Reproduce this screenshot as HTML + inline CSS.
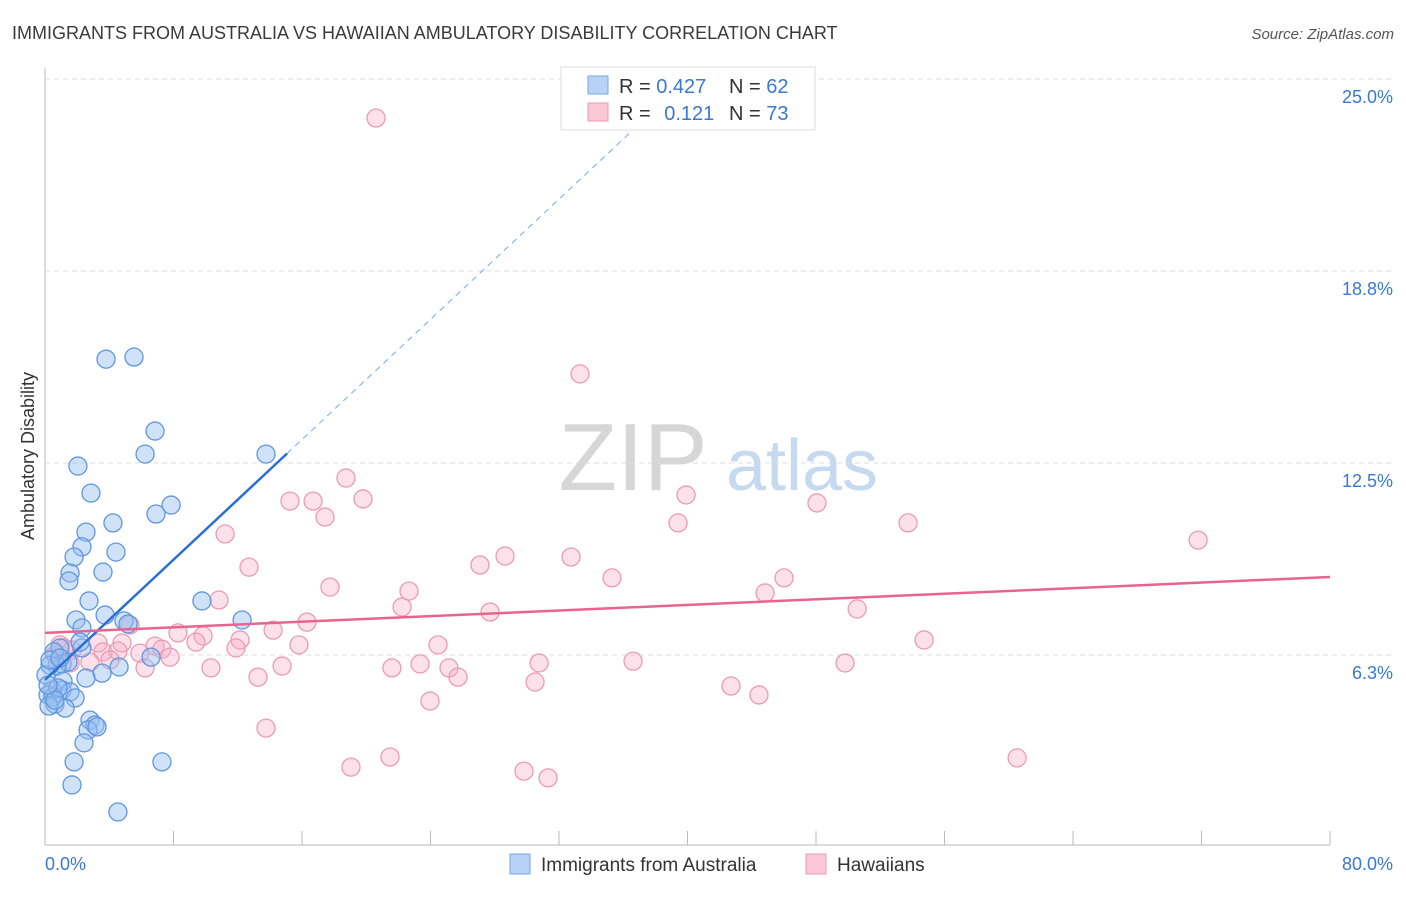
<!DOCTYPE html>
<html><head><meta charset="utf-8">
<style>
body{margin:0;background:#fff;font-family:"Liberation Sans",sans-serif;}
svg text{font-family:"Liberation Sans",sans-serif;}
</style></head>
<body>
<svg id="chart" width="1406" height="892" viewBox="0 0 1406 892" xmlns="http://www.w3.org/2000/svg">
<text x="12" y="39" font-size="18" fill="#3a3a3a">IMMIGRANTS FROM AUSTRALIA VS HAWAIIAN AMBULATORY DISABILITY CORRELATION CHART</text>
<text x="1394" y="39" font-size="15" fill="#555" text-anchor="end" font-style="italic">Source: ZipAtlas.com</text>
<g>
<text x="633" y="490" font-size="96" fill="#d6d6d6" text-anchor="middle" font-family="Liberation Serif,serif">ZIP</text>
<text x="802" y="490" font-size="72" fill="#c5d9f0" text-anchor="middle">atlas</text>
</g>
<g id="grid"></g>
<g id="axes"></g>
<text transform="translate(34,456) rotate(-90)" font-size="18" fill="#333" text-anchor="middle">Ambulatory Disability</text>
<g id="pts"></g>
<g id="trends"></g>
<g>
<rect x="561" y="67" width="254" height="63" fill="#fff" stroke="#ddd"/>
<rect x="588" y="76" width="20" height="18" fill="#b7d2f5" stroke="#7aa6e6"/>
<rect x="588" y="103" width="20" height="18" fill="#fbc6d6" stroke="#ee9ab4"/>
<text x="619" y="93" font-size="20" fill="#333">R = <tspan fill="#3a78d4">0.427</tspan></text>
<text x="729" y="93" font-size="20" fill="#333">N = <tspan fill="#3a78d4">62</tspan></text>
<text x="619" y="120" font-size="20" fill="#333">R = <tspan fill="#3a78d4" dx="8">0.121</tspan></text>
<text x="729" y="120" font-size="20" fill="#333">N = <tspan fill="#3a78d4">73</tspan></text>
</g>
<g>
<rect x="510" y="854" width="20" height="20" fill="#b7d2f5" stroke="#7aa6e6"/>
<text x="541" y="871" font-size="19" fill="#333">Immigrants from Australia</text>
<rect x="806" y="854" width="20" height="20" fill="#fbc6d6" stroke="#ee9ab4"/>
<text x="837" y="871" font-size="19" fill="#333">Hawaiians</text>
</g>
</svg>
<script>
const blueX=[3.80,5.54,6.85,6.23,13.76,2.05,2.86,7.85,6.91,2.55,4.23,2.30,1.81,4.42,1.56,3.61,1.49,2.74,9.77,1.93,2.30,4.92,6.60,12.27,2.30,5.17,0.93,0.56,1.06,1.43,0.75,0.31,4.61,3.55,2.55,1.12,0.44,1.06,1.56,0.19,0.50,1.87,0.62,1.25,0.25,2.80,3.11,2.68,3.24,2.43,1.81,7.28,1.68,4.54,0.81,0.06,0.31,0.93,3.74,2.18,0.62,0.19];
const blueY=[15.88,15.95,13.54,12.79,12.79,12.40,11.52,11.13,10.84,10.25,10.55,9.77,9.44,9.60,8.92,8.95,8.66,8.01,8.01,7.39,7.13,7.36,6.18,7.39,6.48,7.26,6.48,6.35,5.96,6.02,5.89,5.92,5.86,5.66,5.50,5.40,5.11,5.11,5.05,4.95,4.88,4.85,4.65,4.52,4.59,4.13,3.97,3.81,3.91,3.39,2.77,2.77,2.02,1.14,5.18,5.60,6.09,6.15,7.55,6.67,4.78,5.27];
const pinkX=[20.61,33.31,18.74,15.25,16.69,19.80,39.91,17.43,48.06,39.41,53.73,11.21,71.79,28.64,32.75,27.08,12.70,17.74,22.66,35.30,46.01,44.83,10.83,22.23,27.71,50.56,5.29,8.28,16.31,9.84,14.20,12.14,9.40,3.30,6.85,1.18,4.79,24.47,54.73,7.28,15.81,11.89,3.61,1.68,4.54,5.91,7.78,2.80,6.23,10.33,14.76,21.60,23.35,25.15,30.76,36.61,49.81,25.71,13.26,30.51,42.71,44.45,23.97,13.76,21.48,19.05,29.82,31.32,60.52,0.62,1.56,0.93,4.05];
const pinkY=[23.73,15.40,12.01,11.26,11.26,11.33,11.46,10.74,11.20,10.55,10.55,10.19,9.99,9.47,9.44,9.18,9.11,8.46,8.33,8.76,8.76,8.27,8.04,7.81,7.65,7.75,7.23,6.97,7.32,6.87,7.06,6.74,6.67,6.64,6.54,6.48,6.64,6.58,6.74,6.44,6.58,6.48,6.35,6.41,6.38,6.31,6.18,6.02,5.83,5.83,5.89,5.83,5.96,5.83,5.99,6.05,5.99,5.53,5.53,5.37,5.24,4.95,4.75,3.87,2.93,2.60,2.47,2.25,2.90,6.25,5.99,6.58,6.09];
const yTicks=[25.0,18.8,12.5,6.3];
const yTickLabels=["25.0%","18.8%","12.5%","6.3%"];
const xTicks=[0,8,16,24,32,40,48,56,64,72,80];
const blueTrend=[5.44,0.489,15.07]; // intercept, slope, solid end
const pinkTrend=[6.97,8.79];
const NS="http://www.w3.org/2000/svg";
const sx=v=>45+v/80*1285;
const sy=v=>847-v/25*768;
function mk(tag,attrs,parent){const e=document.createElementNS(NS,tag);for(const k in attrs)e.setAttribute(k,attrs[k]);parent.appendChild(e);return e;}
const grid=document.getElementById('grid'),axes=document.getElementById('axes');
yTicks.forEach((t,i)=>{
 const yv=[25,18.75,12.5,6.25][i];
 const l=mk('line',{x1:45,x2:1395,y1:sy(yv),y2:sy(yv),stroke:'#ddd','stroke-dasharray':'5,4'},grid);
 
 
 const tx=mk('text',{x:1393,y:sy(yv)+24,'font-size':18,fill:'#3a78d4','text-anchor':'end'},axes);
 tx.textContent=yTickLabels[i];
 
 
});
mk('line',{x1:45,x2:45,y1:68,y2:845,stroke:'#bbb'},axes);
mk('line',{x1:45,x2:1330,y1:845,y2:845,stroke:'#bbb'},axes);
xTicks.forEach(t=>{
 const l=mk('line',{x1:sx(t),x2:sx(t),y1:831,y2:845,stroke:'#bbb'},axes);
 
 
});
const xl0=mk('text',{x:45,y:870,'font-size':18,fill:'#3a78d4'},axes);xl0.textContent='0.0%';


const xl1=mk('text',{x:1393,y:870,'font-size':18,fill:'#3a78d4','text-anchor':'end'},axes);xl1.textContent='80.0%';


const pts=document.getElementById('pts');
pinkX.forEach((x,i)=>{
 const c=mk('circle',{cx:sx(x),cy:sy(pinkY[i]),r:9,fill:'rgba(247,170,196,0.35)',stroke:'#ec9ab5','stroke-width':1.3},pts);
 
 
});
blueX.forEach((x,i)=>{
 const c=mk('circle',{cx:sx(x),cy:sy(blueY[i]),r:9,fill:'rgba(150,190,240,0.45)',stroke:'#5f96e0','stroke-width':1.3},pts);
 
 
});
const tr=document.getElementById('trends');
const bf=x=>blueTrend[0]+blueTrend[1]*x;
const xTop=(25-blueTrend[0])/blueTrend[1];
const bd=mk('line',{x1:sx(blueTrend[2]),y1:sy(bf(blueTrend[2])),x2:sx(xTop),y2:sy(25),stroke:'#7aa6e6','stroke-width':1,'stroke-dasharray':'6,5'},tr);


const bs=mk('line',{x1:sx(0),y1:sy(bf(0)),x2:sx(blueTrend[2]),y2:sy(bf(blueTrend[2])),stroke:'#2a6fd6','stroke-width':2.5},tr);


const pl=mk('line',{x1:sx(0),y1:sy(pinkTrend[0]),x2:sx(80),y2:sy(pinkTrend[1]),stroke:'#e8648f','stroke-width':2.5},tr);


</script>
</body></html>
